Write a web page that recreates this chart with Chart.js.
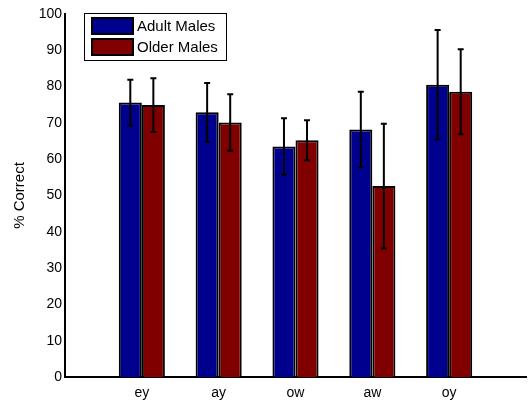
<!DOCTYPE html>
<html>
<head>
<meta charset="utf-8">
<script src="https://cdn.jsdelivr.net/npm/chart.js@4"></script>
<style>
  html, body { margin: 0; padding: 0; background: #fff; }
  #wrap { width: 529px; height: 405px; position: relative; }
</style>
</head>
<body>
<div id="wrap"><canvas id="myChart"></canvas></div>
<script>
// categories padded with blank slots so the axis runs 0..6 like the original
const vowels = ['', 'ey', 'ay', 'ow', 'aw', 'oy', '']
const adultMales = [null, 75.6, 72.9, 63.5, 68.2, 80.5, null]
const olderMales = [null, 74.9, 70.1, 65.2, 52.6, 78.6, null]
const adultErr = [null, 6.3, 8.1, 7.8, 10.4, 15.1, null]
const olderErr = [null, 7.4, 7.8, 5.5, 17.2, 11.7, null]
const yTicks = [0, 10, 20, 30, 40, 50, 60, 70, 80, 90, 100]

const FONT = 'Liberation Sans, Arial, Helvetica, sans-serif'
const errors = [adultErr, olderErr]

const errorBars = {
  id: 'errorBars',
  afterDatasetsDraw(chart) {
    const ctx = chart.ctx
    const y = chart.scales.y
    ctx.save()
    ctx.strokeStyle = '#000'
    ctx.lineWidth = 2
    chart.data.datasets.forEach((ds, i) => {
      const meta = chart.getDatasetMeta(i)
      meta.data.forEach((bar, j) => {
        const v = ds.data[j]
        const e = errors[i][j]
        if (v == null || e == null) return
        const top = y.getPixelForValue(v + e)
        const bot = y.getPixelForValue(v - e)
        ctx.beginPath()
        ctx.moveTo(bar.x, top); ctx.lineTo(bar.x, bot)
        ctx.moveTo(bar.x - 3, top); ctx.lineTo(bar.x + 3, top)
        ctx.moveTo(bar.x - 3, bot); ctx.lineTo(bar.x + 3, bot)
        ctx.stroke()
      })
    })
    ctx.restore()
  }
}

const boxLegend = {
  id: 'boxLegend',
  afterDraw(chart) {
    const ctx = chart.ctx
    ctx.save()
    ctx.fillStyle = '#fff'
    ctx.fillRect(84, 13, 142, 47)
    ctx.strokeStyle = '#000'
    ctx.lineWidth = 1
    ctx.strokeRect(84.5, 13.5, 142, 47)
    ctx.font = '15px ' + FONT
    ctx.textBaseline = 'middle'
    chart.data.datasets.forEach((ds, i) => {
      const top = 18 + i * 21
      ctx.fillStyle = ds.backgroundColor
      ctx.fillRect(92, top, 41, 16)
      ctx.lineWidth = 2
      ctx.strokeRect(92, top, 41, 16)
      ctx.fillStyle = '#000'
      ctx.fillText(ds.label, 137, top + 8.5)
    })
    ctx.restore()
  }
}

const ctx = document.getElementById('myChart').getContext('2d')
const myChart = new Chart(ctx, {
  type: 'bar',
  data: {
    labels: vowels,
    datasets: [{
      label: 'Adult Males',
      data: adultMales,
      backgroundColor: '#00008f',
      borderColor: '#000',
      borderWidth: 2,
      categoryPercentage: 0.6,
      barPercentage: 1
    }, {
      label: 'Older Males',
      data: olderMales,
      backgroundColor: '#800000',
      borderColor: '#000',
      borderWidth: 2,
      categoryPercentage: 0.6,
      barPercentage: 1
    }]
  },
  options: {
    responsive: true,
    maintainAspectRatio: false,
    animation: false,
    layout: { padding: { top: 14, right: 3, left: 0, bottom: 0 } },
    plugins: {
      legend: { display: false },
      tooltip: { enabled: false }
    },
    scales: {
      x: {
        offset: false,
        grid: { display: false, drawTicks: false },
        border: { display: true, color: '#000', width: 2 },
        ticks: { color: '#000', font: { family: FONT, size: 14 }, padding: 8, maxRotation: 0, autoSkip: false },
        afterFit(scale) {
          scale.height = 28
          scale.paddingLeft = 0
          scale.paddingRight = 0
        }
      },
      y: {
        min: 0,
        max: 100,
        grid: { display: false, drawTicks: false },
        border: { display: true, color: '#000', width: 2 },
        afterBuildTicks(scale) { scale.ticks = yTicks.map(v => ({ value: v })) },
        ticks: { color: '#000', font: { family: FONT, size: 14 }, padding: 3 },
        title: { display: true, text: '% Correct', color: '#000', font: { family: FONT, size: 15 }, padding: { top: 11, bottom: 0 } },
        afterFit(scale) { scale.width = 65 }
      }
    }
  },
  plugins: [errorBars, boxLegend]
})
</script>
</body>
</html>
